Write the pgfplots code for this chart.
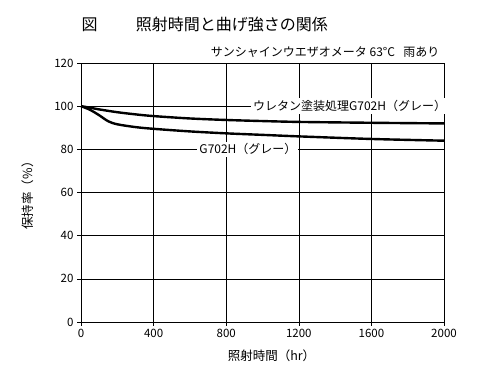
\documentclass[border=0pt]{standalone}
\usepackage{fontspec}
\setmainfont{Noto Sans CJK JP}
\usepackage{pgfplots}
\pgfplotsset{compat=1.18}
\begin{document}
\begin{tikzpicture}
\path[use as bounding box] (0pt,0pt) rectangle (500pt,379pt);
\node[anchor=base west,font=\fontsize{16}{18}\selectfont] at (78pt,348pt) {図\hspace{2.4em}照射時間と曲げ強さの関係};
\node[anchor=base east,font=\fontsize{12}{14}\selectfont] at (443pt,322pt) {サンシャインウエザオメータ 63°C\hspace{0.7em}雨あり};
\begin{axis}[
  at={(81pt,57pt)}, anchor=south west,
  scale only axis, width=363pt, height=259pt,
  xmin=0, xmax=2000, ymin=0, ymax=120,
  xtick={0,400,...,2000}, ytick={0,20,...,120},
  grid=major,
  major grid style={black, line width=0.5pt},
  axis line style={black, line width=0.9pt},
  tick style={black, line width=0.5pt},
  tick align=outside, major tick length=4pt,
  xtick pos=bottom, ytick pos=left,
  /pgf/number format/assume math mode=true,
  /pgf/number format/1000 sep={},
  tick label style={font=\fontsize{11.5}{13}\selectfont},
  xlabel={照射時間（hr）},
  ylabel={保持率（\%）},
  label style={font=\fontsize{12.5}{14}\selectfont},
  xlabel style={yshift=-5pt, xshift=9pt},
  ylabel style={yshift=14pt},
  clip=false,
]
\addplot[black, line width=2.4pt, smooth, tension=0.5] coordinates {
 (0,100) (50,99.3) (100,98.5) (200,97.2) (300,96.2) (400,95.4) (600,94.3) (800,93.6) (1000,93.1) (1200,92.7) (1600,92.3) (2000,92.0)};
\addplot[black, line width=2.4pt, smooth, tension=0.5] coordinates {
 (0,100) (50,98.3) (100,95.8) (150,93.0) (200,91.6) (300,90.3) (400,89.5) (600,88.3) (800,87.4) (1000,86.7) (1200,86.0) (1600,84.8) (2000,84.0)};
\node[fill=white, inner sep=2pt, font=\fontsize{12}{14}\selectfont] at (axis cs:1480,100) {ウレタン塗装処理G702H（グレー）};
\node[fill=white, inner sep=2pt, font=\fontsize{12}{14}\selectfont] at (axis cs:920,80) {G702H（グレー）};
\end{axis}
\end{tikzpicture}
\end{document}
